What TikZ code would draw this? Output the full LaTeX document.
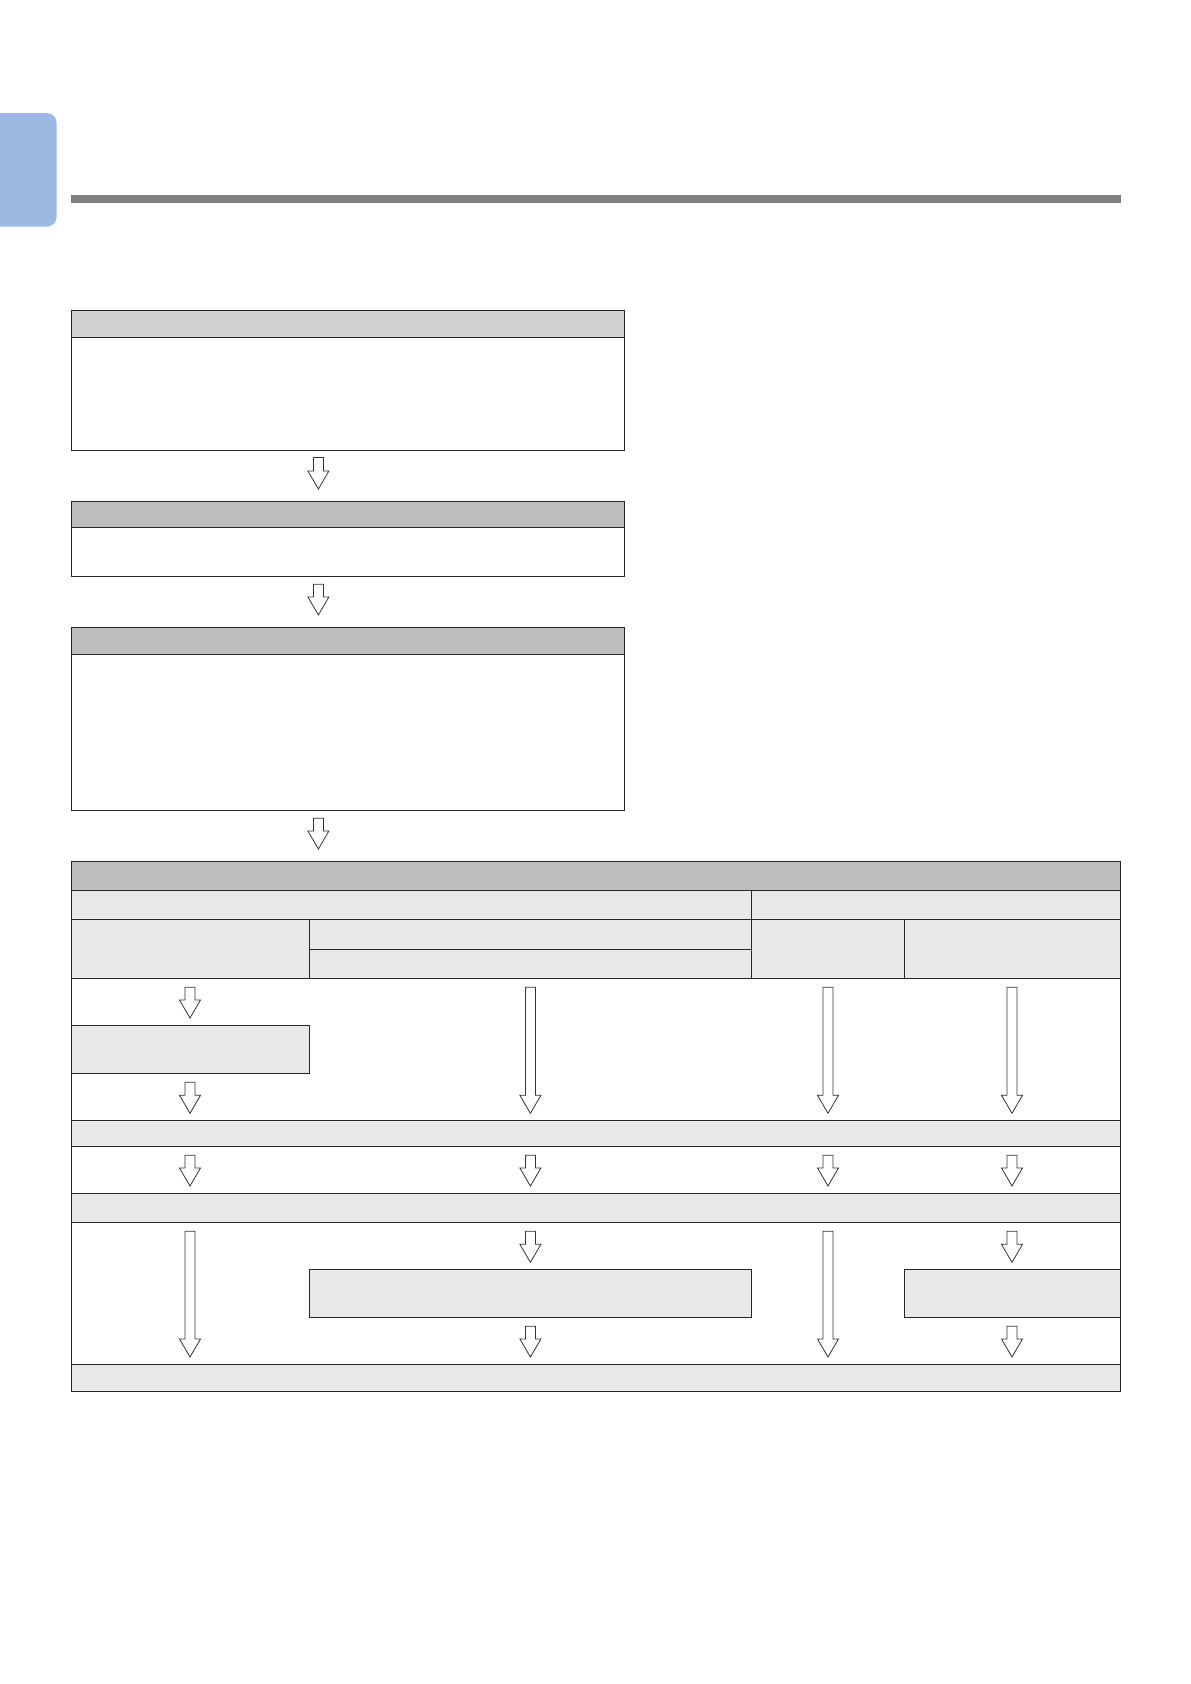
\documentclass[tikz,border=0pt]{standalone}
\usetikzlibrary{calc}

\definecolor{tabblue}{RGB}{157,184,227}
\definecolor{rulegray}{RGB}{127,127,127}
\definecolor{hdrlight}{RGB}{210,209,210}
\definecolor{hdrdark}{RGB}{190,190,190}
\definecolor{cellgray}{RGB}{232,232,232}

\tikzset{
  box/.style={draw=black!85, line width=0.9pt, anchor=north west, inner sep=0pt, outer sep=0pt},
  hdr/.style={box, fill=hdrdark},
  cell/.style={box, fill=cellgray},
  gap top/.store in=\gaptop, gap bot/.store in=\gapbot,
  gap top=9pt, gap bot=7pt,
  flow/.style={draw=black!80, fill=white, line width=0.8pt, to path={
    let \p1=(\tikztostart), \p2=(\tikztotarget) in
    (\x1-5pt,\y1-\gaptop) -- (\x1+5pt,\y1-\gaptop)
    -- (\x1+5pt,\y2+\gapbot+18pt) -- (\x1+10.5pt,\y2+\gapbot+18pt)
    -- (\x1,\y2+\gapbot) -- (\x1-10.5pt,\y2+\gapbot+18pt)
    -- (\x1-5pt,\y2+\gapbot+18pt) -- cycle}},
}

\begin{document}
\begin{tikzpicture}[x=1pt, y=-1pt]
\useasboundingbox (0,0) rectangle (1191,1684);

% page tab and rule
\fill[tabblue, rounded corners=10pt] (-12,113) rectangle (56.7,226.7);
\fill[rulegray] (71,195) rectangle (1121,202.7);

% first three steps
\node (s1) at (71,337.3) [box, minimum width=553pt, minimum height=112.7pt] {};
\node (s1h) at (71,310) [box, fill=hdrlight, minimum width=553pt, minimum height=27.3pt] {};
\node (s2) at (71,527.3) [box, minimum width=553pt, minimum height=49.4pt] {};
\node (s2h) at (71,501) [hdr, minimum width=553pt, minimum height=26.3pt] {};
\node (s3) at (71,654) [box, minimum width=553pt, minimum height=156.7pt] {};
\node (s3h) at (71,627) [hdr, minimum width=553pt, minimum height=27pt] {};

% table
\node (t0) at (71,861) [hdr, minimum width=1049pt, minimum height=29.3pt] {};
\node (t1a) at (71,890.3) [cell, minimum width=680.4pt, minimum height=29pt] {};
\node (t1b) at (751.4,890.3) [cell, minimum width=368.6pt, minimum height=29pt] {};
\node (t2a) at (71,919.3) [cell, minimum width=238.3pt, minimum height=59pt] {};
\node (t2b) at (309.3,919.3) [cell, minimum width=442.1pt, minimum height=29.7pt] {};
\node (t2c) at (309.3,949) [cell, minimum width=442.1pt, minimum height=29.3pt] {};
\node (t2d) at (751.4,919.3) [cell, minimum width=152.9pt, minimum height=59pt] {};
\node (t2e) at (904.3,919.3) [cell, minimum width=215.7pt, minimum height=59pt] {};
\node (p1) at (71,978.3) [box, minimum width=1049pt, minimum height=142pt] {};
\node (q1) at (71,1025) [cell, minimum width=238.3pt, minimum height=48.3pt] {};
\node (t3) at (71,1120.3) [cell, minimum width=1049pt, minimum height=26pt] {};
\node (p2) at (71,1146.3) [box, minimum width=1049pt, minimum height=46.7pt] {};
\node (t4) at (71,1193) [cell, minimum width=1049pt, minimum height=29.3pt] {};
\node (p3) at (71,1222.3) [box, minimum width=1049pt, minimum height=141.7pt] {};
\node (q2) at (309.3,1269.3) [cell, minimum width=442.1pt, minimum height=48pt] {};
\node (q3) at (904.3,1269.3) [cell, minimum width=215.7pt, minimum height=48pt] {};
\node (t5) at (71,1364) [cell, minimum width=1049pt, minimum height=27.3pt] {};

% arrow columns
\coordinate (ax) at (318.4,0);
\coordinate (c1) at (190,0);
\coordinate (c2) at (530.4,0);
\coordinate (c3) at (828,0);
\coordinate (c4) at (1012,0);

\draw[flow, gap top=7.5pt, gap bot=12pt] (s1.south -| ax) to (s2h.north -| ax);
\draw[flow, gap top=7.5pt, gap bot=12pt] (s2.south -| ax) to (s3h.north -| ax);
\draw[flow, gap top=7.5pt, gap bot=12pt] (s3.south -| ax) to (t0.north -| ax);

\draw[flow] (t2a.south -| c1) to (q1.north -| c1);
\draw[flow] (q1.south -| c1) to (t3.north -| c1);
\draw[flow] (t2c.south -| c2) to (t3.north -| c2);
\draw[flow] (t2d.south -| c3) to (t3.north -| c3);
\draw[flow] (t2e.south -| c4) to (t3.north -| c4);
\foreach \c in {c1,c2,c3,c4}
  \draw[flow] (t3.south -| \c) to (t4.north -| \c);
\draw[flow] (t4.south -| c1) to (t5.north -| c1);
\draw[flow] (t4.south -| c2) to (q2.north -| c2);
\draw[flow] (q2.south -| c2) to (t5.north -| c2);
\draw[flow] (t4.south -| c3) to (t5.north -| c3);
\draw[flow] (t4.south -| c4) to (q3.north -| c4);
\draw[flow] (q3.south -| c4) to (t5.north -| c4);
\end{tikzpicture}
\end{document}
